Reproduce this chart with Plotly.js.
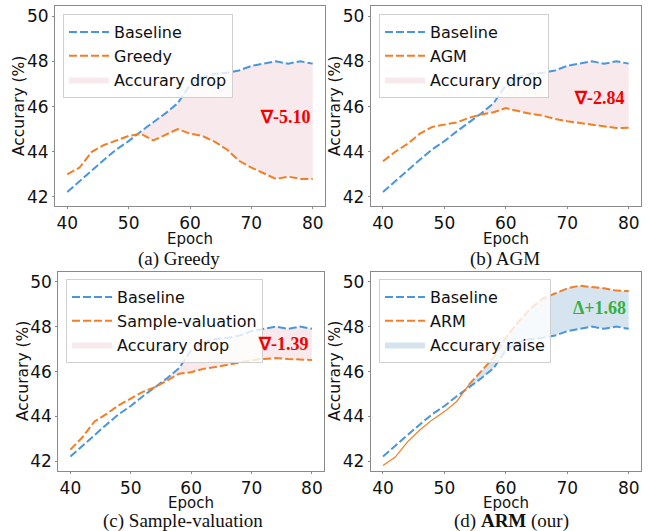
<!DOCTYPE html>
<html>
<head>
<meta charset="utf-8">
<script src="https://cdn.plot.ly/plotly-3.0.1.min.js"></script>
<style>html,body{margin:0;padding:0;background:#fff;}#chart{width:650px;height:531px;}</style>
</head>
<body>
<div id="chart"></div>
<script>
const epochs = [40,42,44,46,48,50,52,54,56,58,60,62,64,66,68,70,72,74,76,78,80];
const baseline = [42.22,42.7,43.2,43.65,44.1,44.47,44.9,45.3,45.7,46.15,46.95,47.3,47.45,47.5,47.6,47.8,47.9,48.0,47.9,48.0,47.9];
const greedy = [43.0,43.3,44.0,44.3,44.5,44.7,44.8,44.5,44.75,45.0,44.8,44.7,44.45,44.1,43.6,43.3,43.05,42.8,42.9,42.8,42.8];
const agm = [43.58,44.0,44.35,44.8,45.1,45.2,45.3,45.5,45.65,45.75,45.93,45.8,45.68,45.6,45.45,45.35,45.27,45.2,45.1,45.05,45.06];
const sampleValuation = [42.53,43.08,43.78,44.12,44.5,44.8,45.1,45.3,45.6,45.9,45.97,46.12,46.2,46.3,46.42,46.5,46.56,46.6,46.56,46.53,46.51];
const arm = [41.82,42.2,42.87,43.4,43.85,44.22,44.67,45.42,46.02,46.62,47.52,48.2,48.8,49.25,49.47,49.7,49.82,49.77,49.7,49.6,49.58];
const methodNames = ['Greedy','AGM','Sample-valuation','ARM'];
const deltaLabels = ['∇-5.10','∇-2.84','∇-1.39','Δ+1.68'];
const captions = ['(a) Greedy','(b) AGM','(c) Sample-valuation','(d) <b>ARM</b> (our)'];
const xTitle = 'Epoch';
const yTitle = 'Accurary (%)';
const xTicks = [40,50,60,70,80];
const yTicks = [42,44,46,48,50];
const armSolidEnd = 7; // ARM drawn thin solid up to this index, dashed afterwards

const BLUE = 'rgb(72,150,220)';
const ORANGE = 'rgb(242,126,38)';
const PINK = 'rgba(200,80,100,0.12)';
const STEEL = 'rgba(70,130,180,0.22)';
const FONT = 'DejaVu Sans';

function gapPolygon(x, hi, lo) {
  const n = x.length;
  let j = n - 1;
  while (j > 0 && hi[j-1] > lo[j-1]) j--;
  const px = [], py = [];
  if (j > 0) {
    const d0 = hi[j-1] - lo[j-1], d1 = hi[j] - lo[j];
    const t = -d0 / (d1 - d0);
    px.push(x[j-1] + t * (x[j] - x[j-1]));
    py.push(hi[j-1] + t * (hi[j] - hi[j-1]));
  }
  for (let i = j; i < n; i++) { px.push(x[i]); py.push(hi[i]); }
  for (let i = n - 1; i >= j; i--) { px.push(x[i]); py.push(lo[i]); }
  px.push(px[0]); py.push(py[0]);
  return {x: px, y: py};
}

const series = [greedy, agm, sampleValuation, arm];
const W = 650, H = 531;
const boxes = [ // [left, right, top, bottom] in px
  [55, 325, 6, 206],
  [370.7, 641, 6, 206],
  [58.3, 324, 271.5, 470.5],
  [370.7, 641, 271.5, 470.5]
];
const legendPos = [[63,14],[379,14],[66,279],[379,279]];
const deltaPos = [[75.6,45.54],[75.3,46.38],[75.3,47.23],[75.2,48.82]];
const capPos = [[179,258.5],[505,258.5],[183,520.5],[511,520.5]];
const xTitlePos = [[190,239.5],[506,239.5],[191,503],[506,503]];
const yTitlePos = [[19,106],[335,106],[23,371],[335,371]];

const data = [];
const layout = {
  width: W, height: H,
  margin: {l:0, r:0, t:0, b:0},
  paper_bgcolor: '#fff', plot_bgcolor: '#fff',
  font: {family: FONT, color: '#000'},
  showlegend: true,
  annotations: []
};

for (let k = 0; k < 4; k++) {
  const sfx = k === 0 ? '' : String(k + 1);
  const xa = 'x' + sfx, ya = 'y' + sfx;
  const lg = 'legend' + sfx;
  const m = series[k];
  const isRaise = k === 3;
  const poly = isRaise ? gapPolygon(epochs, m, baseline) : gapPolygon(epochs, baseline, m);
  data.push({
    x: poly.x, y: poly.y, xaxis: xa, yaxis: ya, legend: lg,
    type: 'scatter', mode: 'lines', fill: 'toself',
    fillcolor: isRaise ? STEEL : PINK, line: {width: 0, color: 'rgba(0,0,0,0)'},
    name: isRaise ? 'Accurary raise' : 'Accurary drop', legendrank: 3, hoverinfo: 'skip'
  });
  data.push({
    x: epochs, y: baseline, xaxis: xa, yaxis: ya, legend: lg,
    type: 'scatter', mode: 'lines', name: 'Baseline', legendrank: 1,
    line: {color: BLUE, width: 2, dash: '8px,3px'}
  });
  if (isRaise) {
    data.push({
      x: epochs.slice(0, armSolidEnd + 1), y: m.slice(0, armSolidEnd + 1), xaxis: xa, yaxis: ya, legend: lg,
      type: 'scatter', mode: 'lines', name: methodNames[k], showlegend: false,
      line: {color: ORANGE, width: 1.2}
    });
    data.push({
      x: epochs.slice(armSolidEnd), y: m.slice(armSolidEnd), xaxis: xa, yaxis: ya, legend: lg,
      type: 'scatter', mode: 'lines', name: methodNames[k], legendrank: 2,
      line: {color: ORANGE, width: 2, dash: '8px,3px'}
    });
  } else {
    data.push({
      x: epochs, y: m, xaxis: xa, yaxis: ya, legend: lg,
      type: 'scatter', mode: 'lines', name: methodNames[k], legendrank: 2,
      line: {color: ORANGE, width: 2, dash: '8px,3px'}
    });
  }
  const b = boxes[k];
  const axCommon = {
    showline: true, mirror: true, linecolor: '#8a8a8a', linewidth: 1,
    ticks: 'outside', ticklen: 2, tickcolor: '#8a8a8a', showgrid: false, zeroline: false,
    tickfont: {size: 17, family: FONT, color: '#111'}
  };
  layout['xaxis' + sfx] = Object.assign({}, axCommon, {
    domain: [b[0] / W, b[1] / W], anchor: ya, range: [38, 82], tickvals: xTicks
  });
  layout['yaxis' + sfx] = Object.assign({}, axCommon, {
    domain: [1 - b[3] / H, 1 - b[2] / H], anchor: xa, range: [41.6, 50.45], tickvals: yTicks
  });
  layout[lg] = {
    x: legendPos[k][0] / W, y: 1 - legendPos[k][1] / H, xanchor: 'left', yanchor: 'top',
    xref: 'paper', yref: 'paper', itemwidth: 40,
    bgcolor: 'rgba(255,255,255,0.8)', bordercolor: '#d0d0d0', borderwidth: 1,
    font: {size: 16, family: FONT, color: '#111'}, traceorder: 'normal'
  };
  layout.annotations.push({
    x: deltaPos[k][0], y: deltaPos[k][1], xref: xa, yref: ya, showarrow: false,
    text: '<b>' + deltaLabels[k] + '</b>',
    font: {size: 18, family: 'Liberation Serif', color: isRaise ? 'rgb(50,178,60)' : 'rgb(245,0,0)'}
  });
  layout.annotations.push({
    x: xTitlePos[k][0] / W, y: 1 - xTitlePos[k][1] / H, xref: 'paper', yref: 'paper',
    xanchor: 'center', yanchor: 'middle', showarrow: false, text: xTitle, borderpad: 0,
    font: {size: 15, family: FONT, color: '#111'}
  });
  layout.annotations.push({
    x: yTitlePos[k][0] / W, y: 1 - yTitlePos[k][1] / H, xref: 'paper', yref: 'paper',
    xanchor: 'center', yanchor: 'middle', showarrow: false, text: yTitle, textangle: -90, borderpad: 0,
    font: {size: 15.5, family: FONT, color: '#111'}
  });
  layout.annotations.push({
    x: capPos[k][0] / W, y: 1 - capPos[k][1] / H, xref: 'paper', yref: 'paper',
    xanchor: 'center', yanchor: 'middle', showarrow: false, text: captions[k], borderpad: 0,
    font: {size: 19, family: 'Liberation Serif', color: '#111'}
  });
}

Plotly.newPlot('chart', data, layout, {displayModeBar: false, staticPlot: true});
</script>
</body>
</html>
